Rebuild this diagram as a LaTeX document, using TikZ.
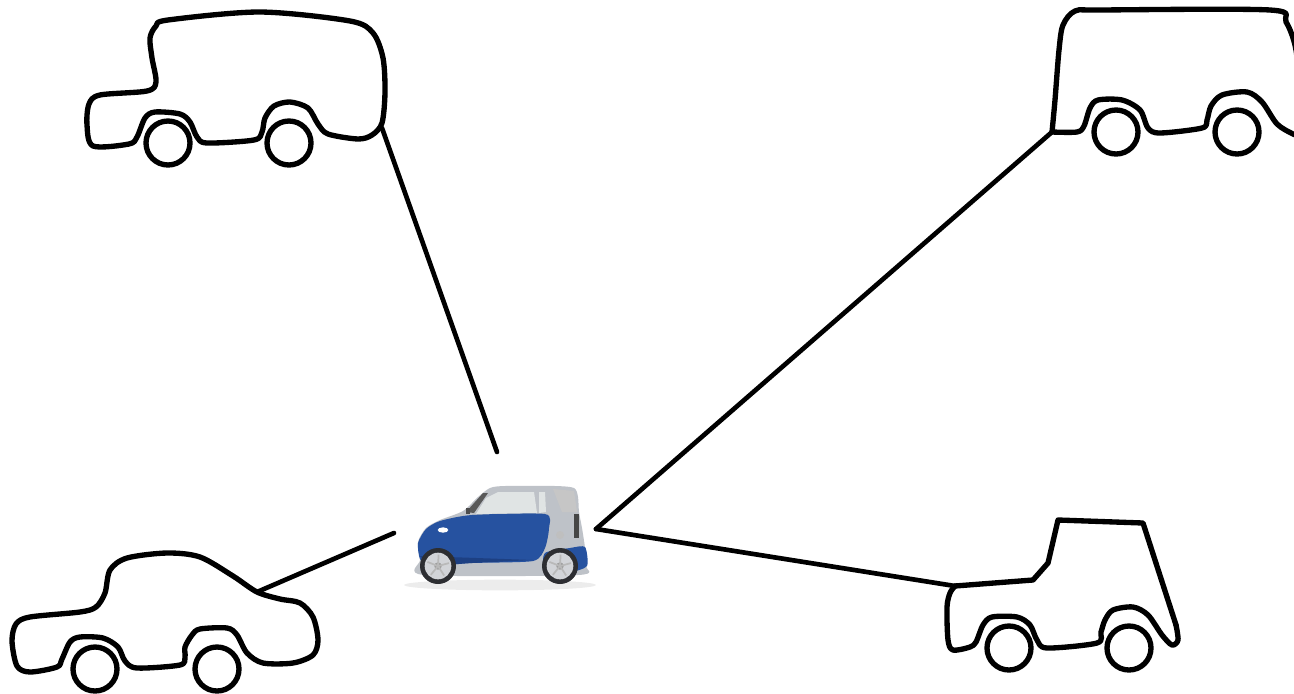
\documentclass[tikz,border=0pt]{standalone}
\definecolor{smartblue}{RGB}{38,82,160}
\definecolor{smartdark}{RGB}{24,52,112}
\definecolor{silver}{RGB}{190,194,200}
\definecolor{tyre}{RGB}{45,46,50}
\definecolor{glass}{RGB}{224,228,228}
\begin{document}
\begin{tikzpicture}[x=0.75pt,y=-0.75pt,
  outline/.style={line width=4pt,line join=round,line cap=round},
  link/.style={line width=3.5pt,line cap=round},
  wheelc/.style={outline}]
\useasboundingbox (0,0) rectangle (1294,693);
\clip (0,0) rectangle (1294,693);

% ---- attachment coordinates
\coordinate (smartT) at (497,452);
\coordinate (smartL) at (394,533);
\coordinate (smartR) at (596,529);
\coordinate (vanTL) at (382,128);
\coordinate (vanTR) at (1052,132);
\coordinate (sedan) at (257,592);
\coordinate (jeep) at (955,586);

% ---- connectors
\draw[link] (smartT) -- (vanTL);
\draw[link] (smartL) -- (sedan);
\draw[link] (smartR) -- (vanTR);
\draw[link] (smartR) -- (jeep);

% ---- top-left van
\draw[outline] plot[smooth cycle,tension=0.5] coordinates {
 (93,146) (87,125) (89,104) (100,95) (147,91) (156,82) (152,58) (150,38)
 (156,26) (168,20) (260,12) (350,21) (373,33) (383,58) (385,92) (382,123)
 (372,135) (358,139) (328,134) (318,124) (308,108) (290,102) (274,106)
 (265,118) (262,132) (254,140) (207,143) (197,137) (190,122) (180,114)
 (155,112) (145,118) (137,137) (129,144)};
\draw[wheelc] (168,143) circle (16.5pt);
\draw[wheelc] (289,143) circle (16.5pt);

% ---- top-right van
\draw[outline] plot[smooth,tension=0.5] coordinates {
 (1052,132) (1055,100) (1059,50) (1063,25) (1075,11) (1100,10) (1270,10)
 (1286,22) (1296,50) (1300,100) (1300,134)};
\draw[outline] plot[smooth,tension=0.5] coordinates {
 (1300,136) (1293,134) (1277,124) (1262,102) (1247,92) (1222,95) (1211,106)
 (1207,120) (1202,128) (1160,133) (1148,128) (1140,110) (1122,100) (1098,100)
 (1090,108) (1084,126) (1077,132) (1052,132)};
\draw[wheelc] (1116,132) circle (16.5pt);
\draw[wheelc] (1237,132) circle (16.5pt);

% ---- bottom-left sedan
\draw[outline] plot[smooth cycle,tension=0.5] coordinates {
 (257,592) (233,576) (200,557) (167,553) (127,558) (110,570) (105,593)
 (96,607) (80,612) (30,617) (16,624) (12,641) (17,666) (30,672) (57,667)
 (62,659) (70,642) (80,637) (103,638) (118,647) (125,661) (137,668)
 (180,665) (185,657) (185,647) (192,635) (200,629) (227,628) (237,635)
 (247,653) (263,663) (293,663) (313,655) (318,640) (313,617) (300,603)
 (280,599)};
\draw[wheelc] (95,669) circle (16.5pt);
\draw[wheelc] (217,669) circle (16.5pt);

% ---- bottom-right jeep
\draw[outline] (jeep) -- (1033,580) -- (1048,563) -- (1058,520) -- (1143,523) -- (1176,625);
\draw[outline] plot[smooth,tension=0.5] coordinates {
 (1176,625) (1178,640) (1172,645) (1162,635) (1148,615) (1133,607) (1113,610)
 (1105,620) (1101,632) (1097,643) (1047,648) (1037,640) (1030,625) (1017,617)
 (992,617) (983,625) (976,642) (970,647) (953,650) (948,640) (947,607)
 (950,593) (955,586)};
\draw[wheelc] (1009,648) circle (16.5pt);
\draw[wheelc] (1129,648) circle (16.5pt);

% ---- smart car (centre)
\fill[gray!15] (500,585) ellipse (72pt and 4pt);
\fill[silver] plot[smooth cycle,tension=0.45] coordinates {
 (420,560) (418,542) (426,528) (440,520) (463,511) (478,497) (490,488)
 (505,486) (555,486) (574,488) (578,497) (579,512) (582,528) (585,548)
 (586,566) (578,575) (424,575)};
\fill[smartblue] plot[smooth cycle,tension=0.4] coordinates {
 (420,559) (418,543) (426,529) (440,521) (472,515) (545,514) (549,528)
 (545,548) (533,561) (472,563) (430,566)};
\fill[smartblue] plot[smooth cycle,tension=0.4] coordinates {
 (545,553) (570,548) (585,547) (587,566) (570,572) (545,570)};
\fill[smartdark,opacity=0.6] (420,556) -- (533,560) -- (472,563) -- (430,566) -- cycle;
% windows
\fill[glass] (476,514) -- (486,498) -- (498,492) -- (534,492) -- (537,513) -- cycle;
\fill[glass] (539,492) -- (545,492) -- (546,512) -- (539,513) -- cycle;
\fill[gray!45] (553,489) -- (574,491) -- (577,512) -- (562,512) -- cycle;
\fill[gray!70!black] (466,512) -- (483,493) -- (488,493) -- (474,513) -- cycle;
\fill[gray!60!black] (466,508) rectangle (470,514);
\fill[gray!55!black] (574,514) rectangle (579,538);
\fill[gray!50] (560,535) circle (3pt);
\fill[white] (443,530) ellipse (4pt and 2pt);
% wheels
\foreach \wx in {438,560}{
  \fill[tyre] (\wx,566) circle (13.5pt);
  \fill[silver!70!white] (\wx,566) circle (10pt);
  \fill[gray!75] (\wx,566) circle (2.8pt);
  \foreach \a in {15,87,...,303}
    \draw[gray!55,line width=1.3pt] (\wx,566) -- ++(\a:8.5pt);
}
\end{tikzpicture}
\end{document}
